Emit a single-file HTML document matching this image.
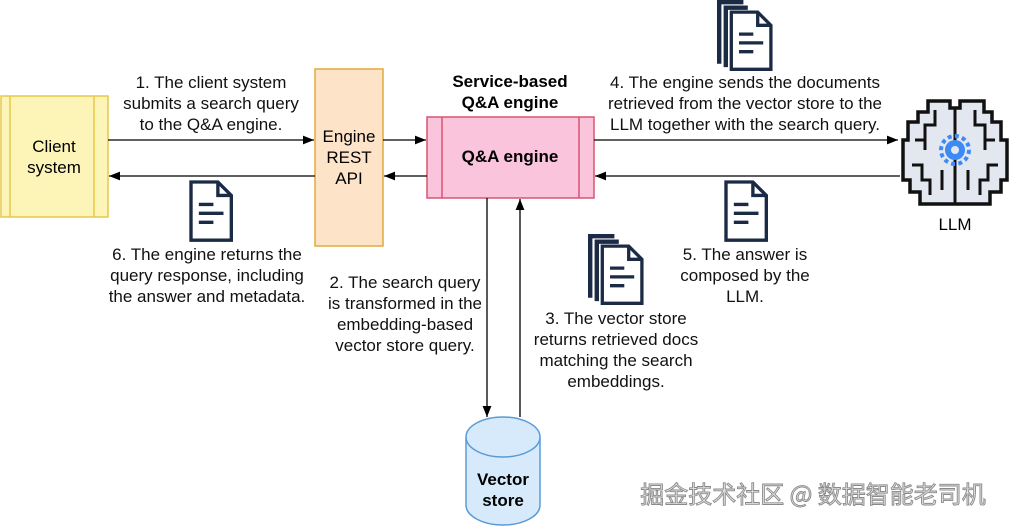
<!DOCTYPE html>
<html><head><meta charset="utf-8"><style>
body{margin:0;background:#fff;width:1011px;height:527px;overflow:hidden}
svg{display:block;font-family:"Liberation Sans",Arial,sans-serif}
</style></head><body>
<svg width="1011" height="527" viewBox="0 0 1011 527" xmlns="http://www.w3.org/2000/svg">
<defs>
<marker id="a" viewBox="0 0 10 10" refX="10" refY="5" markerWidth="11" markerHeight="11" markerUnits="userSpaceOnUse" orient="auto"><path d="M0,1 L10,5 L0,9 Z" fill="#000"/></marker>
<g id="doc"><path d="M0,0 H24 L36,12 V52 H0 Z" fill="#fff" stroke="#1b2a45" stroke-width="3" stroke-linejoin="miter"/><path d="M24,0 V12 H36" fill="none" stroke="#1b2a45" stroke-width="3"/><path d="M7,20 H20 M7,28 H29 M7,36 H20" stroke="#1b2a45" stroke-width="3"/></g>
<g id="stack"><path d="M0,0 H24 V4 H4 V58 H0 Z" fill="#1b2a45"/><path d="M6,5 H28 V9 H10 V61 H6 Z" fill="#1b2a45"/><use href="#doc" x="13" y="11"/></g>
</defs>
<!-- client -->
<rect x="1" y="96" width="107" height="121" fill="#fdf4b8" stroke="#e5c84a" stroke-width="1.5"/>
<line x1="10" y1="96" x2="10" y2="217" stroke="#e5c84a" stroke-width="1.5"/>
<line x1="94" y1="96" x2="94" y2="217" stroke="#e5c84a" stroke-width="1.5"/>
<text x="54" y="152" font-size="17" text-anchor="middle">Client</text>
<text x="54" y="173" font-size="17" text-anchor="middle">system</text>
<!-- REST -->
<rect x="315" y="69" width="68" height="177" fill="#fde3c8" stroke="#e2aa3c" stroke-width="1.5"/>
<text x="349" y="142" font-size="17" text-anchor="middle">Engine</text>
<text x="349" y="163" font-size="17" text-anchor="middle">REST</text>
<text x="349" y="184" font-size="17" text-anchor="middle">API</text>
<!-- QA -->
<text x="510" y="87" font-size="17" font-weight="bold" text-anchor="middle">Service-based</text>
<text x="510" y="108" font-size="17" font-weight="bold" text-anchor="middle">Q&amp;A engine</text>
<rect x="427" y="117" width="167" height="81" fill="#f9c4dc" stroke="#d6566f" stroke-width="1.5"/>
<line x1="442" y1="117" x2="442" y2="198" stroke="#d6566f" stroke-width="1.5"/>
<line x1="579" y1="117" x2="579" y2="198" stroke="#d6566f" stroke-width="1.5"/>
<text x="510" y="162" font-size="17" font-weight="bold" text-anchor="middle">Q&amp;A engine</text>
<!-- arrows -->
<g stroke="#000" stroke-width="1.3" fill="none">
<line x1="108" y1="140" x2="314" y2="140" marker-end="url(#a)"/>
<line x1="315" y1="176" x2="109" y2="176" marker-end="url(#a)"/>
<line x1="383" y1="140" x2="426" y2="140" marker-end="url(#a)"/>
<line x1="427" y1="176" x2="384" y2="176" marker-end="url(#a)"/>
<line x1="594" y1="140" x2="898" y2="140" marker-end="url(#a)"/>
<line x1="900" y1="176" x2="595" y2="176" marker-end="url(#a)"/>
<line x1="487" y1="198" x2="487" y2="417" marker-end="url(#a)"/>
<line x1="520" y1="417" x2="520" y2="199" marker-end="url(#a)"/>
</g>
<!-- cylinder -->
<path d="M466,437 V505 A37,20 0 0 0 540,505 V437" fill="#d6eafb" stroke="#5b9bd5" stroke-width="1.5"/>
<ellipse cx="503" cy="437" rx="37" ry="20" fill="#d6eafb" stroke="#5b9bd5" stroke-width="1.5"/>
<text x="503" y="485" font-size="17" font-weight="bold" text-anchor="middle">Vector</text>
<text x="503" y="506" font-size="17" font-weight="bold" text-anchor="middle">store</text>
<!-- brain -->
<path d="M928,101 H950 V108 H960 V101 H984 V112 H992 V122 H1001 V140 H1007 V180 H1001 V192 H990 V204 H920 V192 H910 V180 H903 V140 H908 V122 H918 V112 H928 Z" fill="#e3e7ef" stroke="#111" stroke-width="3.5"/>
<g stroke="#111" stroke-width="3" fill="none">
<path d="M955,108 V204"/><path d="M935,110 V125 H925 V140"/><path d="M975,110 V125 H985 V140"/>
<path d="M915,140 H925 V150"/><path d="M995,140 H985 V150"/>
<path d="M912,165 H922 V180 H930 V195"/><path d="M998,165 H988 V180 H980 V195"/>
<path d="M942,170 V190"/><path d="M968,170 V190"/>
</g>
<circle cx="955" cy="150" r="10" fill="#3d8af7"/><circle cx="955" cy="150" r="14" fill="none" stroke="#3d8af7" stroke-width="4" stroke-dasharray="4 3.3"/><circle cx="955" cy="150" r="4" fill="#e3e7ef"/>
<text x="955" y="230" font-size="17" text-anchor="middle">LLM</text>
<!-- docs -->
<use href="#doc" transform="translate(191,182) scale(1.12)"/>
<use href="#doc" transform="translate(726,182) scale(1.12)"/>
<use href="#stack" transform="translate(717,0) scale(1.1)"/>
<use href="#stack" transform="translate(588,234) scale(1.1)"/>
<!-- labels -->
<g font-size="17" text-anchor="middle" fill="#111">
<text x="211" y="88">1. The client system</text>
<text x="211" y="109">submits a search query</text>
<text x="211" y="130">to the Q&amp;A engine.</text>
<text x="207" y="260">6. The engine returns the</text>
<text x="207" y="281">query response, including</text>
<text x="207" y="302">the answer and metadata.</text>
<text x="405" y="288">2. The search query</text>
<text x="405" y="309">is transformed in the</text>
<text x="405" y="330">embedding-based</text>
<text x="405" y="351">vector store query.</text>
<text x="616" y="324">3. The vector store</text>
<text x="616" y="345">returns retrieved docs</text>
<text x="616" y="366">matching the search</text>
<text x="616" y="387">embeddings.</text>
<text x="745" y="88">4. The engine sends the documents</text>
<text x="745" y="109">retrieved from the vector store to the</text>
<text x="745" y="130">LLM together with the search query.</text>
<text x="745" y="260">5. The answer is</text>
<text x="745" y="281">composed by the</text>
<text x="745" y="302">LLM.</text>
</g>
<text x="813" y="503" font-size="24" text-anchor="middle" fill="#e4e4e4" stroke="#8a8a8a" stroke-width="0.9" font-family="'Noto Sans CJK SC','Liberation Sans',sans-serif">掘金技术社区 @ 数据智能老司机</text>
</svg>
</body></html>
